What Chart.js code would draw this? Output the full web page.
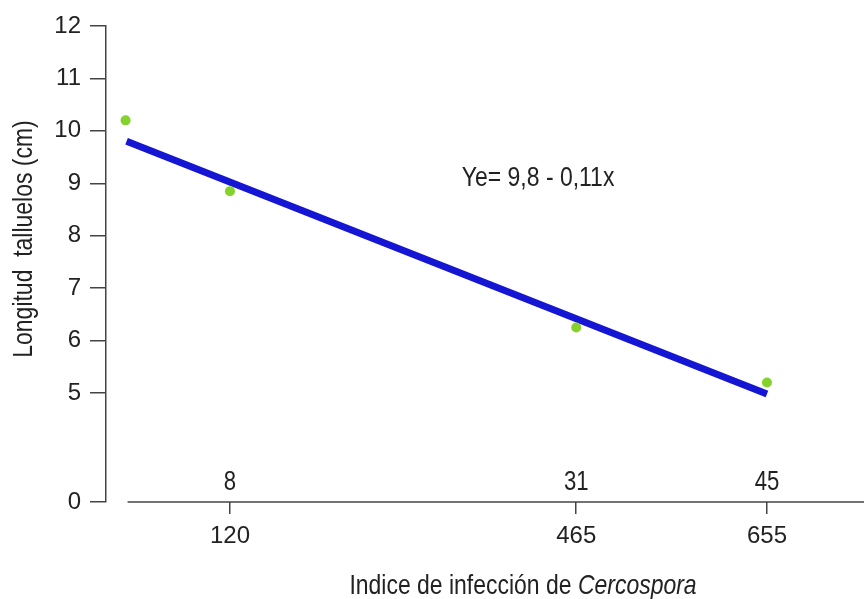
<!DOCTYPE html>
<html lang="es">

<head>
    <meta charset="UTF-8">
    <title>Longitud de talluelos vs. índice de infección</title>
    <script src="https://cdn.jsdelivr.net/npm/chart.js"></script>
    <style>
        html, body { margin: 0; padding: 0; background: #fff; }
        #wrap { width: 864px; height: 599px; }
    </style>
</head>

<body>
    <div id="wrap"><canvas id="grafico" width="864" height="599"></canvas></div>

    <script>
        // Datos
        const indiceX = [16, 120, 465, 655];          // posición en el eje x
        const longitudY = [10.2, 8.85, 6.25, 5.2];     // longitud talluelos (cm)
        const rectaX = [17, 655];                      // extremos de la recta ajustada
        const rectaY = [9.8, 4.98];
        const ticksX = [120, 465, 655];
        const etiquetasSuperiores = ['8', '31', '45'];
        const ticksY = [0, 5, 6, 7, 8, 9, 10, 11, 12];
        const ecuacion = 'Ye= 9,8 - 0,11x';

        // el eje y está cortado: el 0 se dibuja donde iría ~2.92
        const yCorte = 2.92;
        const inicioEjeX = 18;

        // ¿hay fuente estrecha? si no, se comprime la normal
        function fuenteDisponible(nombre) {
            const c = document.createElement('canvas').getContext('2d');
            const muestra = 'Indice 0123 talluelos';
            c.font = '40px monospace';
            const a = c.measureText(muestra).width;
            c.font = '40px "' + nombre + '", monospace';
            return c.measureText(muestra).width !== a;
        }
        const hayNarrow = fuenteDisponible('Liberation Sans Narrow');
        const fuente = hayNarrow ? '"Liberation Sans Narrow", sans-serif' : '"Liberation Sans", Arial, sans-serif';
        const escalaX = hayNarrow ? 1 : 0.82;
        const tamTicks = hayNarrow ? 27 : 24;

        const colorTexto = '#222';
        const colorEje = '#444';

        // texto estrecho (real o comprimido)
        function texto(ctx, str, x, y, tam, cursiva, alineado, giro) {
            ctx.save();
            ctx.translate(x, y);
            if (giro) ctx.rotate(giro);
            ctx.scale(escalaX, 1);
            ctx.font = (cursiva ? 'italic ' : '') + tam + 'px ' + fuente;
            ctx.textAlign = alineado || 'left';
            ctx.fillText(str, 0, 0);
            ctx.restore();
        }
        function ancho(ctx, str, tam, cursiva) {
            ctx.save();
            ctx.font = (cursiva ? 'italic ' : '') + tam + 'px ' + fuente;
            const w = ctx.measureText(str).width * escalaX;
            ctx.restore();
            return w;
        }

        // Plugin para textos extra y línea del eje x
        const extras = {
            id: 'extras',
            afterDraw(chart) {
                const ctx = chart.ctx;
                const x = chart.scales.x;
                const y = chart.scales.y;
                const base = chart.chartArea.bottom;
                ctx.save();

                // línea del eje x (separada del eje y)
                ctx.strokeStyle = colorEje;
                ctx.lineWidth = 1.5;
                ctx.beginPath();
                ctx.moveTo(x.getPixelForValue(inicioEjeX), base);
                ctx.lineTo(chart.width, base);
                ctx.stroke();

                ctx.fillStyle = colorTexto;
                ctx.textBaseline = 'alphabetic';

                // etiquetas sobre el eje
                ticksX.forEach((v, i) => {
                    texto(ctx, etiquetasSuperiores[i], x.getPixelForValue(v), base - 12, 27, false, 'center');
                });

                // ecuación
                texto(ctx, ecuacion, x.getPixelForValue(351), y.getPixelForValue(8.94), 28, false, 'left');

                // título eje x con parte en cursiva
                const t1 = 'Indice de infección de ';
                const t2 = 'Cercospora';
                const w1 = ancho(ctx, t1, 28, false);
                const w2 = ancho(ctx, t2, 28, true);
                const inicio = 523 - (w1 + w2) / 2;
                texto(ctx, t1, inicio, 594, 28, false, 'left');
                texto(ctx, t2, inicio + w1, 594, 28, true, 'left');

                // título eje y
                texto(ctx, 'Longitud  talluelos (cm)', 32, 239, 28, false, 'center', -Math.PI / 2);

                ctx.restore();
            }
        };

        new Chart(document.getElementById('grafico'), {
            type: 'scatter',
            data: {
                datasets: [{
                    label: 'Recta',
                    type: 'line',
                    data: rectaX.map((v, i) => ({ x: v, y: rectaY[i] })),
                    borderColor: '#1515d4',
                    borderWidth: 7,
                    pointRadius: 0,
                    borderCapStyle: 'butt',
                    order: 2
                }, {
                    label: 'Observado',
                    data: indiceX.map((v, i) => ({ x: v, y: longitudY[i] })),
                    backgroundColor: '#86d22c',
                    borderWidth: 0,
                    pointRadius: 5,
                    order: 1
                }]
            },
            options: {
                responsive: false,
                animation: false,
                layout: { padding: { top: 26, right: 0, left: 0, bottom: 0 } },
                plugins: {
                    legend: { display: false },
                    tooltip: { enabled: false }
                },
                scales: {
                    x: {
                        type: 'linear',
                        min: -3.5,
                        max: 746.7,
                        afterBuildTicks: s => { s.ticks = ticksX.map(v => ({ value: v })); },
                        afterFit: s => { s.height = 97; },
                        border: { display: false },
                        grid: { drawOnChartArea: false, tickLength: 12, color: colorEje, lineWidth: 1.5 },
                        ticks: {
                            color: colorTexto,
                            font: { family: fuente, size: tamTicks },
                            padding: 8,
                            maxRotation: 0,
                            autoSkip: false
                        }
                    },
                    y: {
                        type: 'linear',
                        min: yCorte,
                        max: 12,
                        afterBuildTicks: s => { s.ticks = ticksY.map(v => ({ value: v === 0 ? yCorte : v })); },
                        afterFit: s => { s.width = 106; },
                        border: { display: true, color: colorEje, width: 1.5 },
                        grid: { drawOnChartArea: false, tickLength: 16, color: colorEje, lineWidth: 1.5 },
                        ticks: {
                            color: colorTexto,
                            font: { family: fuente, size: tamTicks },
                            padding: 9,
                            autoSkip: false,
                            callback: v => (v < 5 ? '0' : v)
                        }
                    }
                }
            },
            plugins: [extras]
        });
    </script>
</body>

</html>
